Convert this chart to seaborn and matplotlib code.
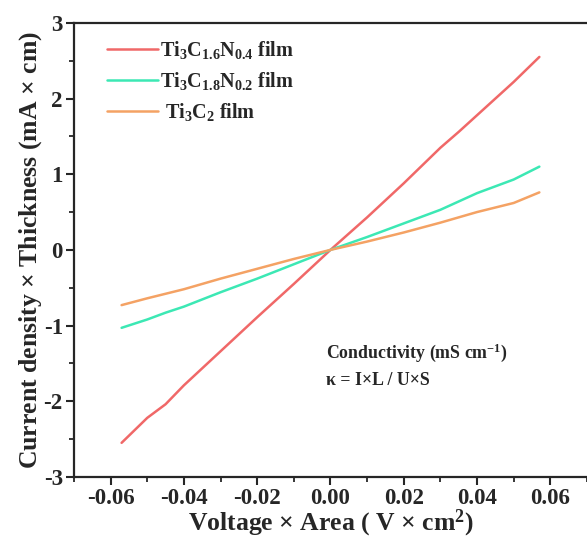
import numpy as np
import pandas as pd
import matplotlib
matplotlib.use("Agg")
import matplotlib.pyplot as plt
import seaborn as sns
from matplotlib.ticker import MultipleLocator

# voltage x area (V cm^2) sample points
volt = [-0.057, -0.05, -0.045, -0.04, -0.03, -0.02, -0.01, 0.0,
        0.01, 0.02, 0.03, 0.035, 0.04, 0.05, 0.057]
# current density x thickness (mA cm)
j_n04 = [-2.55, -2.22, -2.04, -1.79, -1.34, -0.89, -0.45, 0.0,
         0.43, 0.88, 1.35, 1.56, 1.78, 2.22, 2.55]
j_n02 = [-1.03, -0.92, -0.83, -0.75, -0.56, -0.38, -0.19, 0.0,
         0.17, 0.35, 0.53, 0.64, 0.75, 0.93, 1.10]
j_c2 = [-0.73, -0.64, -0.58, -0.52, -0.38, -0.25, -0.12, 0.0,
        0.11, 0.23, 0.36, 0.43, 0.50, 0.62, 0.76]

labels = [r'Ti$_3$C$_{1.6}$N$_{0.4}$ film',
          r'Ti$_3$C$_{1.8}$N$_{0.2}$ film',
          r' Ti$_3$C$_2$ film']
colors = ['#f06868', '#3ce8b4', '#f4a264']

rows = []
for lab, ys in zip(labels, [j_n04, j_n02, j_c2]):
    for x, y in zip(volt, ys):
        rows.append({'v': x, 'j': y, 'sample': lab})
df = pd.DataFrame(rows)

sns.set_theme(style='ticks')
plt.rcParams['font.family'] = ['Liberation Serif', 'DejaVu Serif']
plt.rcParams['font.weight'] = 'bold'
plt.rcParams['mathtext.fontset'] = 'custom'
plt.rcParams['mathtext.rm'] = 'Liberation Serif:bold'
plt.rcParams['mathtext.it'] = 'Liberation Serif:bold'
plt.rcParams['mathtext.bf'] = 'Liberation Serif:bold'

fig = plt.figure(figsize=(5.87, 5.45), dpi=100)
ax = fig.add_axes([0.126, 0.125, 0.874, 0.833])

sns.lineplot(data=df, x='v', y='j', hue='sample', palette=colors,
             linewidth=1.8, ax=ax, sort=False)

ax.set_xlim(-0.07, 0.07)
ax.set_ylim(-3, 3)
ax.xaxis.set_minor_locator(MultipleLocator(0.01))
ax.yaxis.set_minor_locator(MultipleLocator(0.5))
ax.set_xticks([-0.06, -0.04, -0.02, 0.0, 0.02, 0.04, 0.06])
ax.set_xticklabels(['-0.06', '-0.04', '-0.02', '0.00', '0.02', '0.04', '0.06'])
ax.set_yticks([-3, -2, -1, 0, 1, 2, 3])
ax.set_yticklabels(['-3', '-2', '-1', '0', '1', '2', '3'])
ax.tick_params(which='major', direction='out', length=6, width=1.5,
               labelsize=16.5, pad=2)
ax.tick_params(which='minor', direction='out', length=3.5, width=1.3)
for s in ['left', 'bottom', 'top']:
    ax.spines[s].set_linewidth(1.6)
ax.spines['right'].set_visible(False)

ax.set_xlabel(r'Voltage $\times$ Area ( V $\times$ cm$^2$)', fontsize=18.5,
              fontweight='bold', labelpad=-1)
ax.set_ylabel(r'Current density $\times$ Thickness (mA $\times$ cm)',
              fontsize=18.5, fontweight='bold', labelpad=0)

ax.text(-0.0013, -1.36, r'Conductivity (mS cm$^{-1}$)', fontsize=12.8,
        fontweight='bold', va='center', ha='left')
ax.text(-0.0013, -1.73, 'κ = I×L / U×S', fontsize=12.8,
        fontweight='bold', va='center', ha='left')

ax.legend(loc='upper left', bbox_to_anchor=(0.03, 1.005), frameon=False,
          fontsize=14.5, handlelength=2.5, handletextpad=0.1,
          labelspacing=0.45, title=None)

fig.savefig('out.png', dpi=100)
